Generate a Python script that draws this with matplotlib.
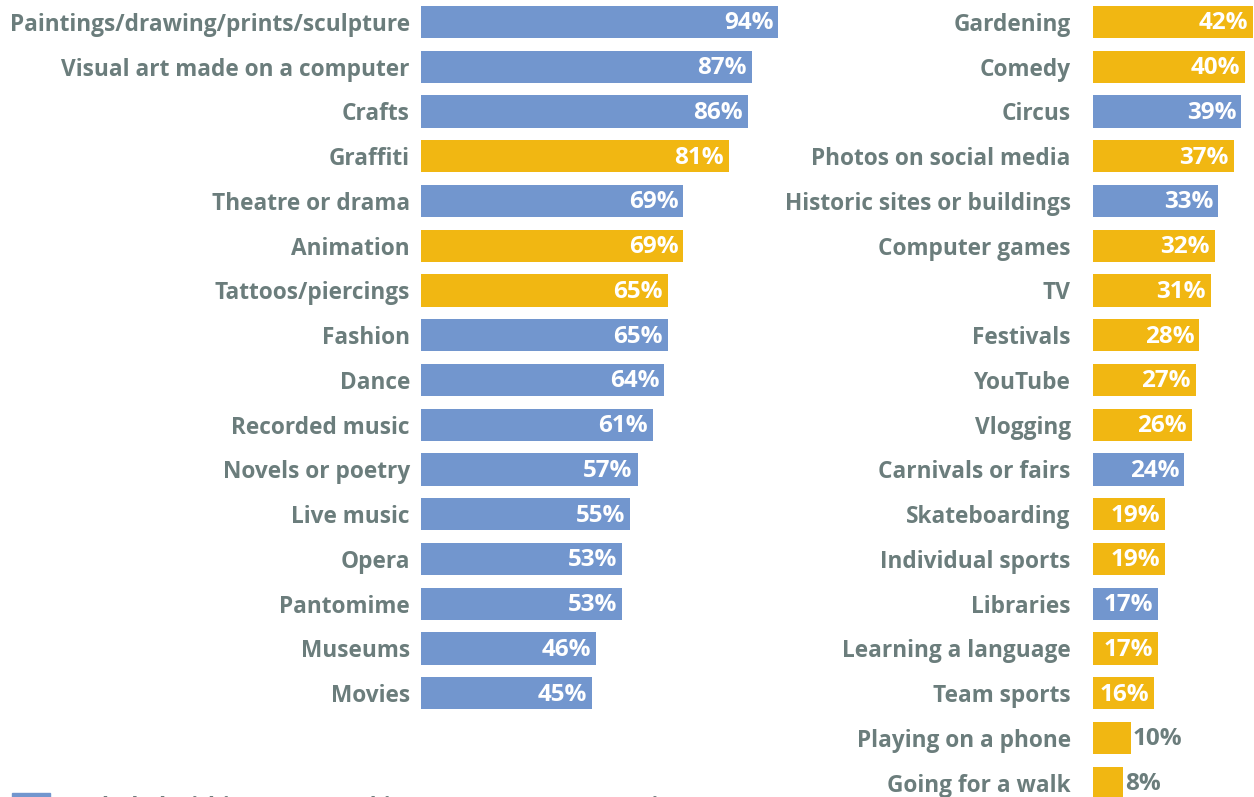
import matplotlib
matplotlib.use("Agg")
import matplotlib.pyplot as plt

# Left column
left_labels = ["Paintings/drawing/prints/sculpture", "Visual art made on a computer", "Crafts",
               "Graffiti", "Theatre or drama", "Animation", "Tattoos/piercings", "Fashion",
               "Dance", "Recorded music", "Novels or poetry", "Live music", "Opera",
               "Pantomime", "Museums", "Movies"]
left_values = [94, 87, 86, 81, 69, 69, 65, 65, 64, 61, 57, 55, 53, 53, 46, 45]
left_dcms = [True, True, True, False, True, False, False, True,
             True, True, True, True, True, True, True, True]

# Right column
right_labels = ["Gardening", "Comedy", "Circus", "Photos on social media",
                "Historic sites or buildings", "Computer games", "TV", "Festivals",
                "YouTube", "Vlogging", "Carnivals or fairs", "Skateboarding",
                "Individual sports", "Libraries", "Learning a language", "Team sports",
                "Playing on a phone", "Going for a walk"]
right_values = [42, 40, 39, 37, 33, 32, 31, 28, 27, 26, 24, 19, 19, 17, 17, 16, 10, 8]
right_dcms = [False, False, True, False, True, False, False, False, False, False,
              True, False, False, True, False, False, False, False]

legend_text = "Included within DCMS's 'Taking Part' survey categories"

BLUE = "#7296CE"
YELLOW = "#F1B712"
GREY = "#6B7D7C"
FONT = "Open Sans"
LABEL_SIZE = 16.3
VALUE_SIZE = 17.5

W, H = 1254, 797
fig = plt.figure(figsize=(W / 100, H / 100), dpi=100)

px_per_pct = 3.8
row_px = 44.75
first_row = 22.0
ytop = -first_row / row_px
ybot = (H - first_row) / row_px


def panel(x0, xmax, labels, values, dcms, pad):
    ax = fig.add_axes([x0 / W, 0, xmax * px_per_pct / W, 1])
    ys = list(range(len(values)))
    colors = [BLUE if d else YELLOW for d in dcms]
    ax.barh(ys, values, height=0.72, color=colors)
    ax.set_xlim(0, xmax)
    ax.set_ylim(ybot, ytop)
    ax.set_yticks(ys)
    ax.set_yticklabels(labels, fontsize=LABEL_SIZE, color=GREY, fontfamily=FONT, fontweight="bold")
    ax.tick_params(axis="y", length=0, pad=pad)
    ax.set_xticks([])
    for s in ax.spines.values():
        s.set_visible(False)
    for y, v in zip(ys, values):
        if v > 12:
            ax.text(v - 1.3, y + 0.03, f"{v}%", ha="right", va="center", color="white",
                    fontsize=VALUE_SIZE, fontfamily=FONT, fontweight="bold")
        else:
            ax.text(v + 0.4, y + 0.03, f"{v}%", ha="left", va="center", color=GREY,
                    fontsize=VALUE_SIZE, fontfamily=FONT, fontweight="bold")
    return ax


panel(421, 100, left_labels, left_values, left_dcms, 8)
panel(1093, 42.5, right_labels, right_values, right_dcms, 16)

# legend (cut off at bottom edge, as in the original)
fig.patches.append(plt.Rectangle((12 / W, -16 / H), 38 / W, 20 / H, transform=fig.transFigure,
                                 color=BLUE, clip_on=False))
fig.text(68 / W, -11 / H, legend_text, ha="left", va="center", color=GREY,
         fontsize=LABEL_SIZE, fontfamily=FONT, fontweight="bold")

fig.savefig("out.png", dpi=100)
